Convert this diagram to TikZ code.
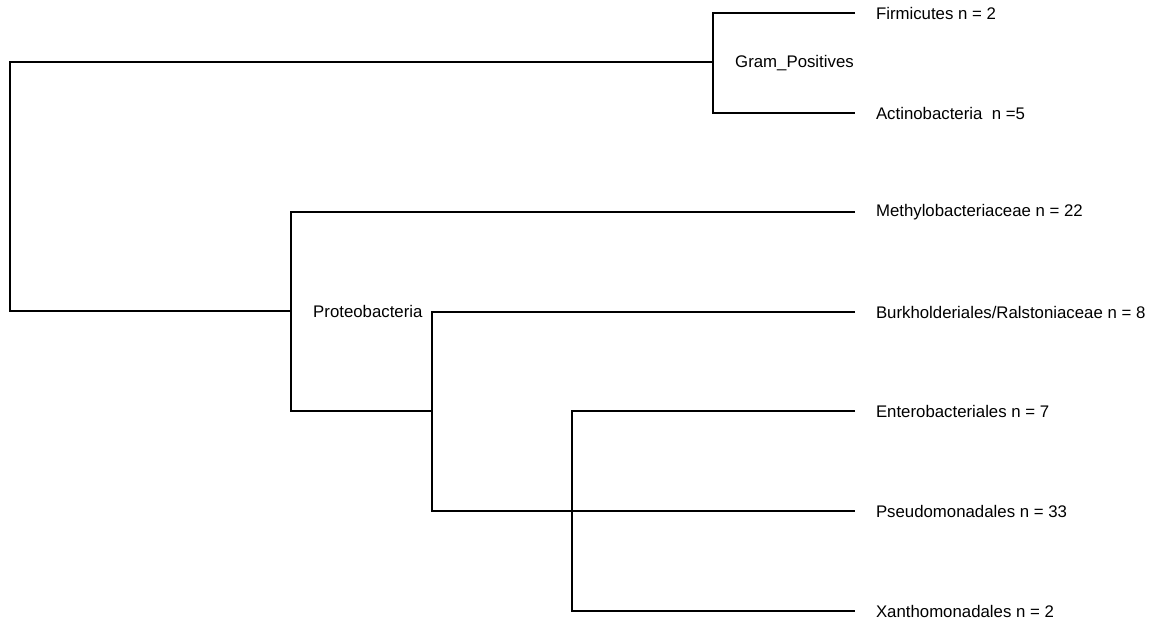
\documentclass[tikz,border=0pt]{standalone}
\usepackage{fontspec}
\setmainfont{Liberation Sans}
\begin{document}
\begin{tikzpicture}[x=1pt,y=-1pt,
  branch/.style={line width=2.5pt,line join=miter},
  leaf/.style={anchor=west,inner xsep=21pt,inner ysep=0pt,outer sep=0pt,font=\fontsize{16.8}{18}\selectfont},
  clade/.style={anchor=west,inner sep=0pt,font=\fontsize{16.8}{18}\selectfont}]
\useasboundingbox (0,0) rectangle (1153,623);
\fill[white] (0,0) rectangle (1153,623);
% leaves
\node[leaf] (firm) at (855,13) {Firmicutes n = 2};
\node[leaf] (act) at (855,113) {Actinobacteria\ \ n =5};
\node[leaf] (meth) at (855,212) {Methylobacteriaceae n = 22};
\node[leaf] (burk) at (855,312) {Burkholderiales/Ralstoniaceae n = 8};
\node[leaf] (ent) at (855,411) {Enterobacteriales n = 7};
\node[leaf] (pse) at (855,511) {Pseudomonadales n = 33};
\node[leaf] (xan) at (855,611) {Xanthomonadales n = 2};
% internal nodes
\coordinate (root) at (10,186.5);
\coordinate (gp) at (713,62);
\coordinate (pr) at (291,311);
\coordinate (bu) at (432,411);
\coordinate (en) at (572,511);
% clade labels
\node[clade] (gplab) at (735,63) {Gram\_Positives};
\node[clade] (prlab) at (313,311) {Proteobacteria};
% branches
\draw[branch] (firm.west) -| (gp) |- (act.west);
\draw[branch] (gp) -| (root) |- (pr);
\draw[branch] (meth.west) -| (pr) |- (bu);
\draw[branch] (burk.west) -| (bu) |- (en);
\draw[branch] (ent.west) -| (en) |- (xan.west);
\draw[branch] (en) -- (pse.west);
\end{tikzpicture}
\end{document}
